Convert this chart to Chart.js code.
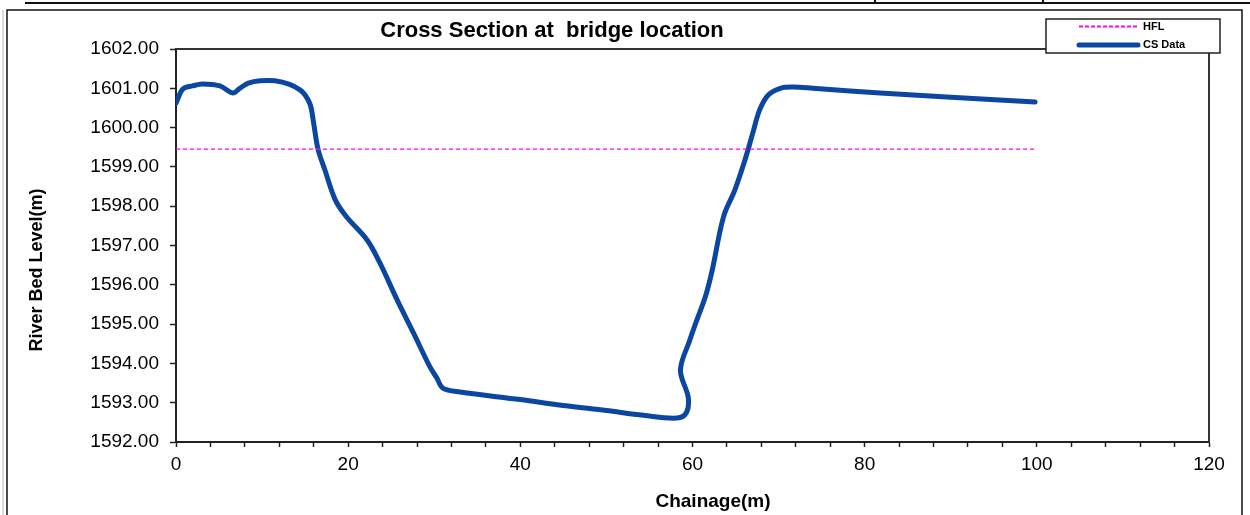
<!DOCTYPE html>
<html>
<head>
<meta charset="utf-8">
<script src="https://cdn.jsdelivr.net/npm/chart.js@4"></script>
<style>
  body { margin: 0; background: #fff; }
</style>
</head>
<body>
<canvas id="myChart" width="1250" height="515"></canvas>
<script>
//Datos de la sección transversal (chainage en m, nivel en m)
const chainage = [0, 0.8, 1.9, 3.1, 5.1, 6.6, 7.4, 8.4, 9.8, 11.5, 13.2, 14.4, 15.0, 15.6, 16.0, 16.5, 17.3, 18.5, 19.8,
  22.2, 23.7, 25.7, 27.6, 29.5, 30.3, 31.0, 33.0, 40, 45, 50, 54.3, 58.2, 59.3, 59.5, 58.6,
  59.7, 60.5, 61.5, 62.3, 63.6, 64.9, 66.1, 67.0, 67.8, 68.8, 70.2, 71.7, 74.0, 81.8, 89.5, 99.8];
const bedLevel = [1600.62, 1600.98, 1601.06, 1601.11, 1601.06, 1600.88, 1601.0, 1601.13, 1601.19, 1601.19, 1601.1, 1600.96, 1600.83, 1600.58, 1600.1, 1599.45, 1598.92, 1598.16, 1597.73,
  1597.14, 1596.55, 1595.61, 1594.77, 1593.91, 1593.63, 1593.37, 1593.27, 1593.08, 1592.93, 1592.8, 1592.68, 1592.61, 1592.75, 1593.14, 1593.83,
  1594.6, 1595.1, 1595.7, 1596.38, 1597.73, 1598.4, 1599.18, 1599.86, 1600.45, 1600.83, 1601.0, 1601.03, 1601.0, 1600.88, 1600.78, 1600.65];

//Línea HFL
const hflChainage = [0, 100];
const hflLevel = [1599.45, 1599.45];

//Ejes
const xTicksEvery = 20;
const yTickFmt = 2;

const csPoints = chainage.map((c, i) => ({ x: c, y: bedLevel[i] }));
const hflPoints = hflChainage.map((c, i) => ({ x: c, y: hflLevel[i] }));

Chart.defaults.font.family = "'Liberation Sans', Arial, sans-serif";
Chart.defaults.color = '#000';

//Plugin para marcos, títulos y leyenda
const extras = {
  id: 'extras',
  beforeDraw(chart) {
    const ctx = chart.ctx;
    ctx.save();
    ctx.fillStyle = '#fff';
    ctx.fillRect(0, 0, chart.width, chart.height);
    // marco exterior
    ctx.strokeStyle = '#cfcfcf';
    ctx.lineWidth = 1.5;
    ctx.beginPath(); ctx.moveTo(3, 10); ctx.lineTo(3, 515); ctx.stroke();
    ctx.strokeStyle = '#111';
    ctx.lineWidth = 1.5;
    ctx.beginPath();
    ctx.moveTo(7, 515); ctx.lineTo(7, 10); ctx.lineTo(1242, 10); ctx.lineTo(1242, 515);
    ctx.stroke();
    // restos de tabla arriba
    ctx.lineWidth = 2;
    ctx.beginPath(); ctx.moveTo(25, 3); ctx.lineTo(1250, 3); ctx.stroke();
    ctx.beginPath(); ctx.moveTo(875, 0); ctx.lineTo(875, 3); ctx.moveTo(1043, 0); ctx.lineTo(1043, 3); ctx.stroke();
    ctx.restore();
  },
  afterDraw(chart) {
    const ctx = chart.ctx;
    const a = chart.chartArea;
    ctx.save();
    // caja del gráfico
    ctx.strokeStyle = '#333';
    ctx.lineWidth = 2;
    ctx.beginPath();
    ctx.moveTo(a.left, a.top); ctx.lineTo(a.right, a.top); ctx.lineTo(a.right, a.bottom);
    ctx.stroke();

    // títulos
    ctx.fillStyle = '#000';
    ctx.textAlign = 'center';
    ctx.textBaseline = 'middle';
    ctx.font = "bold 22px 'Liberation Sans', Arial";
    ctx.fillText('Cross Section at  bridge location', 552, 31);
    ctx.font = "bold 19px 'Liberation Sans', Arial";
    ctx.fillText('Chainage(m)', 713, 502);
    ctx.save();
    ctx.translate(37, 270);
    ctx.rotate(-Math.PI / 2);
    ctx.font = "bold 18px 'Liberation Sans', Arial";
    ctx.fillText('River Bed Level(m)', 0, 0);
    ctx.restore();

    // leyenda
    ctx.fillStyle = '#fff';
    ctx.fillRect(1046, 19, 174, 34);
    ctx.strokeStyle = '#222';
    ctx.lineWidth = 1.5;
    ctx.strokeRect(1046, 19, 174, 34);
    const ds = chart.data.datasets;
    ctx.strokeStyle = ds[0].borderColor;
    ctx.lineWidth = 2;
    ctx.setLineDash([4, 2]);
    ctx.beginPath(); ctx.moveTo(1079, 26.5); ctx.lineTo(1138, 26.5); ctx.stroke();
    ctx.setLineDash([]);
    ctx.strokeStyle = ds[1].borderColor;
    ctx.lineWidth = 5;
    ctx.lineCap = 'round';
    ctx.beginPath(); ctx.moveTo(1079, 45); ctx.lineTo(1138, 45); ctx.stroke();
    ctx.fillStyle = '#000';
    ctx.textAlign = 'left';
    ctx.font = "bold 11px 'Liberation Sans', Arial";
    ctx.fillText(ds[0].label, 1143, 27);
    ctx.fillText(ds[1].label, 1143, 45);
    ctx.restore();
  }
};

const config = {
  type: 'scatter',
  data: {
    datasets: [
      {
        label: 'HFL',
        data: hflPoints,
        showLine: true,
        borderColor: '#ff00ff',
        borderWidth: 1.3,
        borderDash: [4, 3],
        pointRadius: 0
      },
      {
        label: 'CS Data',
        data: csPoints,
        showLine: true,
        borderColor: '#0b47a1',
        borderWidth: 5,
        borderCapStyle: 'round',
        borderJoinStyle: 'round',
        tension: 0.35,
        pointRadius: 0
      }
    ]
  },
  options: {
    responsive: false,
    animation: false,
    layout: { padding: { left: 0, top: 49, right: 41, bottom: 0 } },
    plugins: {
      legend: { display: false },
      title: { display: false },
      tooltip: { enabled: false }
    },
    scales: {
      x: {
        type: 'linear',
        min: 0,
        max: 120,
        afterFit: (s) => { s.height = 73; },
        border: { display: true, color: '#222', width: 2 },
        grid: { drawOnChartArea: false, drawTicks: true, tickLength: 5, tickColor: '#222', tickWidth: 1.5 },
        ticks: {
          stepSize: 4,
          autoSkip: false,
          maxRotation: 0,
          padding: 6,
          font: { size: 19 },
          callback: (v) => (v % xTicksEvery === 0 ? v : '')
        }
      },
      y: {
        min: 1592,
        max: 1602,
        afterFit: (s) => { s.width = 176; },
        border: { display: true, color: '#222', width: 2 },
        grid: { drawOnChartArea: false, drawTicks: true, tickLength: 6, tickColor: '#222', tickWidth: 1.5 },
        ticks: {
          stepSize: 1,
          padding: 11,
          font: { size: 19 },
          callback: (v) => v.toFixed(yTickFmt)
        }
      }
    }
  },
  plugins: [extras]
};

const myChart = document.getElementById('myChart');
new Chart(myChart, config);
</script>
</body>
</html>
